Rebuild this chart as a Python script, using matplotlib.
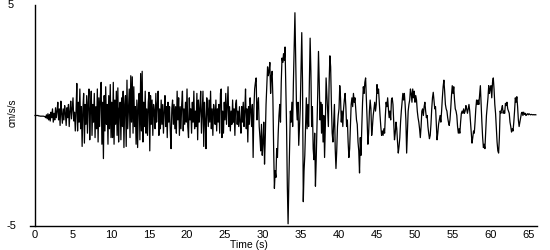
import numpy as np
import matplotlib
matplotlib.use("Agg")
import matplotlib.pyplot as plt
import matplotlib.transforms as mtransforms

# Sampling interval (s) of the acceleration record
dt = 0.1
# Acceleration values (cm/s/s), one row per second
accel = [
    0, 0, 0, 0, 0, -0.02, -0.02, -0.03, -0.03, -0.03,
    -0.03, -0.03, -0.04, -0.05, -0.1, 0.03, -0.15, 0.08, -0.2, 0.05,
    -0.25, 0.15, -0.1, 0.3, -0.3, 0.1, -0.2, 0.35, -0.1, 0.2,
    0.6, -0.2, 0.3, -0.45, 0.65, 0.1, -0.35, 0.3, -0.2, 0.45,
    0.1, -0.45, 0.35, -0.1, 0.5, -0.5, 0.2, 0.65, -0.15, 0.3,
    0.8, -0.25, 0.15, -0.7, 0.2, 1.45, -0.7, 0.6, -0.3, 1.2,
    -0.6, 0.4, -1.4, 0.3, 1.0, -1.25, 0.5, -0.4, 0.9, -0.8,
    0.6, 1.2, -1.1, 0.3, 1.1, -0.9, 0.5, -0.3, 1.0, -1.0,
    0.4, -0.6, 1.2, -1.2, 0.8, -0.5, 0.9, 1.5, -1.3, 0.6,
    -1.95, 0.9, -0.7, 1.3, -0.4, 0.5, -1.3, 0.9, -0.6, 1.4,
    -1.0, 0.6, -1.0, 1.5, -1.3, 0.7, -0.4, 1.1, -0.9, 1.25,
    -1.2, 0.3, 0.6, -1.1, 0.8, -0.5, 1.1, -1.45, 0.5, 0.9,
    -1.4, 1.6, -0.6, 0.3, 1.2, -1.0, 1.8, -0.3, 1.75, -0.8,
    1.3, -0.5, 0.4, -1.3, 0.7, -1.45, 0.5, 1.0, -1.1, 1.9,
    -0.7, 2.0, -1.2, 0.6, -0.5, 1.1, -0.8, 0.3, -0.9, 0.6,
    1.05, -1.6, 0.9, -0.4, 0.7, -0.9, 0.5, 0.2, -0.6, 1.0,
    -0.3, 0.5, 1.1, -0.9, 0.3, -0.6, 0.7, -0.4, 0.5, -0.8,
    0.2, 0.9, -0.5, 0.4, -1.0, 0.6, -0.3, 0.4, -0.7, -1.5,
    0.3, 0.7, -0.4, 0.5, -0.6, 0.4, -0.8, 1.1, -0.2, 0.8,
    -0.9, 0.4, -0.6, 0.5, 1.1, -0.7, 0.3, -0.4, 0.6, -0.3,
    1.2, -0.5, -1.0, 0.8, -0.2, 0.3, -0.8, 0.6, -0.3, 1.1,
    -0.6, 0.2, -0.5, 1.0, -1.1, 0.7, -0.3, 0.3, 1.1, -0.8,
    0.2, 1.1, -1.4, 0.6, -0.2, -1.5, 0.8, 0.3, -0.5, 0.7,
    -0.3, 1.1, -0.6, 0.3, -0.9, 0.5, 0.2, -0.4, 0.7, -0.7,
    0.3, -0.3, 0.5, -0.8, 1.0, 1.2, -1.0, 0.2, -0.8, 0.6,
    -0.2, 1.0, -0.4, 0.5, 1.3, -0.5, 0.4, -0.7, 0.2, -0.4,
    0.7, -0.3, 0.3, -0.9, 0.5, 0.7, -0.4, 0.2, -0.5, 0.4,
    -0.3, -0.8, 0.4, -0.3, 0.6, -0.5, 0.2, 1.2, -0.6, 0.3,
    -1.2, 0.4, -0.4, 0.8, 0.2, -0.5, 0.5, -1.9, 0.3, 1.2,
    1.5, 1.7, -0.2, 0.5, 0.8, -0.5, -1.0, -1.6, -0.4, -1.8,
    -1.2, -0.3, -2.2, -1.0, 0.5, 1.4, 2.2, 1.8, 2.0, 2.4,
    1.0, 1.8, 2.0, 0.8, -1.5, -3.3, -2.5, -2.8, -1.5, -1.9,
    -0.8, 0.0, 0.5, -0.3, 1.5, 2.6, 2.4, 2.8, 2.5, 3.1,
    1.2, -0.5, -3.2, -4.9, -3.0, -1.5, 0.2, -0.3, 0.6, -0.5,
    1.5, 3.0, 4.65, 2.5, 0.5, -0.2, 0.6, -1.35, -0.5, 0.3,
    2.0, 3.75, 1.5, -3.9, -2.5, -1.8, -0.5, 0.8, -0.6, 0.5,
    -0.5, 1.5, 3.5, 2.0, -0.5, 0.4, -1.5, -2.0, -0.8, -3.2,
    -2.0, -0.5, 1.0, 2.9, 1.5, -0.2, 0.6, -0.8, 0.5, -1.2,
    0.0, -1.9, -0.5, 1.7, 1.0, 0.3, -0.5, 1.5, 2.7, 2.2,
    0.5, -0.8, -1.2, -0.4, 0.5, -1.5, -2.4, -1.6, -0.5, 0.0,
    0.3, 1.35, 0.8, -0.3, 0.2, -0.5, 0.3, 0.7, 1.0, 0.4,
    -0.5, -0.2, -1.2, -1.9, -1.5, -0.5, 0.5, 0.8, 0.4, 1.0,
    0.6, 0.8, 0.3, -0.2, -0.4, -1.2, -1.6, -2.6, -1.0, -1.8,
    -0.5, 0.6, 1.3, 1.0, 1.5, 1.7, 0.8, -0.2, -1.3, -0.8,
    0.2, 0.7, 0.3, -0.9, -0.5, 0.0, 0.3, 0.6, 0.2, 0.5,
    1.4, 1.0, 1.2, 0.6, 0.0, -0.5, -0.9, -0.7, -0.9, -0.6,
    -0.8, 0.0, 0.6, 0.4, 0.8, 0.3, -0.1, 0.2, -0.2, 0.7,
    0.8, 0.5, -0.3, -1.1, -0.8, -0.3, -0.6, -1.2, -1.7, -1.4,
    -1.0, -0.3, 0.2, 0.6, 1.0, 0.7, 1.0, 0.5, -0.2, -1.7,
    -0.8, 0.2, 0.5, 0.7, 1.2, 1.0, 0.6, 1.2, 0.8, 1.1,
    0.6, 0.9, 0.7, 0.2, -0.1, -0.3, -0.6, -1.0, -0.5, 0.2,
    0.3, 0.0, 0.4, 0.6, 0.2, -0.1, 0.0, -0.5, -0.8, -1.05,
    -0.9, -0.4, 0.3, 0.8, 1.05, 0.7, 0.3, 0.4, -0.3, -1.1,
    -0.8, -0.4, -0.2, 0.0, -0.3, 0.2, 0.8, 1.3, 1.6, 1.1,
    0.5, 0.3, 0.2, -0.1, -0.3, -0.45, -0.2, 0.3, 0.9, 1.35,
    1.0, 1.3, 0.7, 0.3, 0.2, 0.0, -0.5, -0.8, -0.6, -0.8,
    -0.3, 0.1, 0.2, 0.1, 0.3, 0.1, 0.2, 0.45, 0.3, 0.1,
    0.3, 0.5, 0.2, -0.3, -0.8, -1.25, -1.0, -0.7, -0.8, -0.3,
    0.3, 0.7, 0.5, 0.7, 0.5, 0.9, 1.35, 0.5, -0.3, -1.0,
    -1.45, -1.3, -1.5, -0.8, 0.0, 0.4, 0.8, 1.35, 1.0, 1.2,
    1.35, 0.8, 1.5, 1.7, 1.2, 0.5, 0.1, -0.6, -1.2, -1.6,
    -1.7, -1.0, 0.2, 0.1, 0.3, 0.45, 0.1, 0.2, 0.1, 0.55,
    0.45, 0.6, 0.3, 0.2, 0.1, -0.3, -0.5, -0.75, -0.6, -0.7,
    -0.3, 0.2, 0.8, 0.6, 0.85, 0.4, -0.2, -0.5, -0.3, -0.1,
    0.1, 0.15, 0.0, 0.15, 0.05, 0.1, 0.0, 0.05, 0.08, 0.03,
    0.08, 0.05, 0.03, 0.05, 0.04, 0.03, 0.04, 0.03, 0.04, 0.03,
]
time = np.arange(len(accel)) * dt

x_ticks = list(range(0, 66, 5))
y_tick_values = [5, -5]
y_tick_labels = ["5", "-5"]
x_label = "Time (s)"
y_label = "cm/s/s"

plt.rcParams['font.family'] = ['Liberation Sans', 'DejaVu Sans']

fig = plt.figure(figsize=(5.5, 2.5), dpi=100)
W, H = 550, 250
left_px, right_px, top_px, bot_px = 30, 536.6, 5, 226
ax = fig.add_axes([left_px / W, 1 - bot_px / H, (right_px - left_px) / W, (bot_px - top_px) / H])

ax.plot(time, accel, color='black', lw=0.9)
ax.set_xlim(-0.66, 66)
ax.set_ylim(-5, 5)

ax.spines['top'].set_visible(False)
ax.spines['right'].set_visible(False)
ax.spines['left'].set_position(('data', 0))
for s in ('left', 'bottom'):
    ax.spines[s].set_linewidth(1.0)

ax.set_xticks(x_ticks)
ax.set_xticklabels([str(v) for v in x_ticks], fontsize=8)
ax.tick_params(axis='x', length=0, pad=3)
ax.set_yticks([])

trans = mtransforms.blended_transform_factory(fig.transFigure, ax.transData)
for v, lab in zip(y_tick_values, y_tick_labels):
    fig.text(11 / W, v, lab, transform=trans, ha='center', va='center', fontsize=8)

fig.text(13 / W, 1 - 113 / H, y_label, rotation=90, ha='center', va='center', fontsize=7)
fig.text(249 / W, 1 - 245 / H, x_label, ha='center', va='center', fontsize=7.5)

fig.savefig("out.png", dpi=100)
